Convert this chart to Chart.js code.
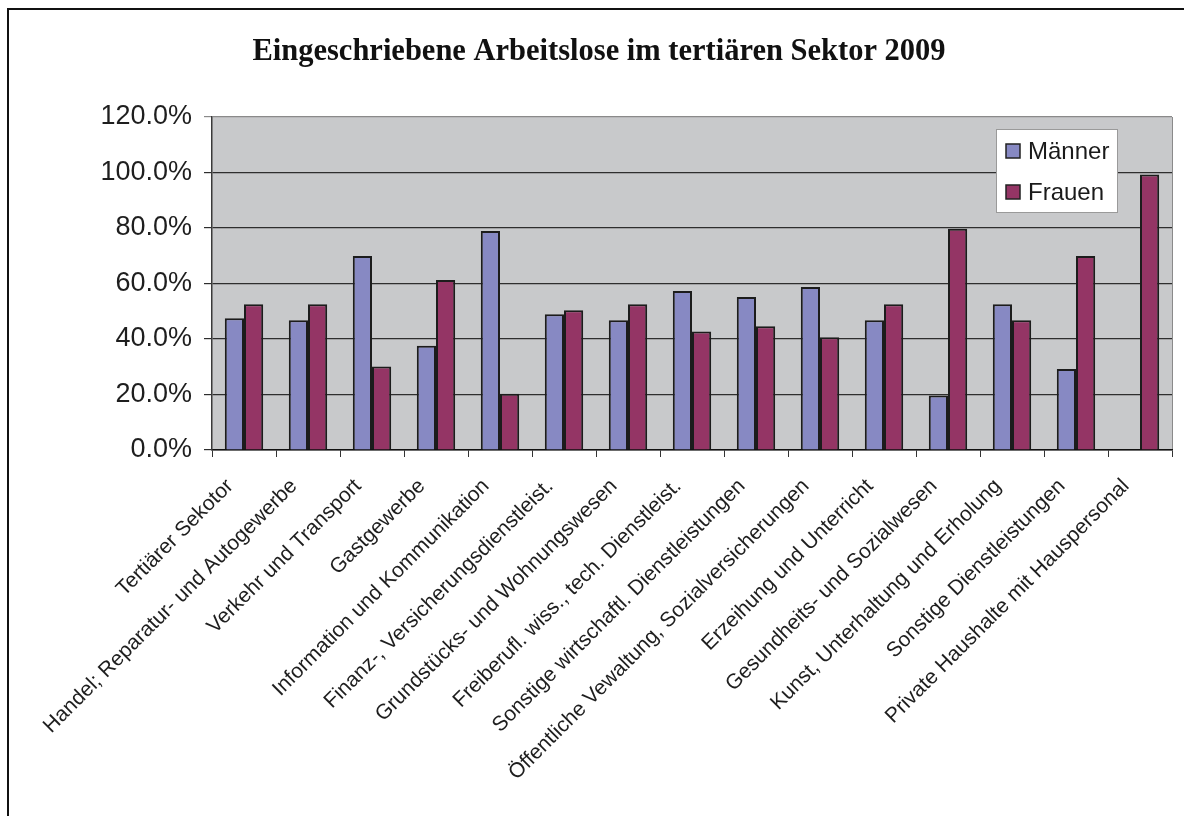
<!DOCTYPE html>
<html>
<head>
<meta charset="utf-8">
<script src="https://cdn.jsdelivr.net/npm/chart.js@4/dist/chart.umd.min.js"></script>
<style>
  html, body { margin: 0; padding: 0; background: #fff; overflow: hidden; }
  #wrap { position: relative; width: 1184px; height: 816px; }
  #frame { position: absolute; left: 7px; top: 8px; width: 1300px; height: 1000px; border: 2px solid #111; box-sizing: border-box; }
  canvas { position: absolute; left: 0; top: 0; }
</style>
</head>
<body>
<div id="wrap">
  <div id="frame"></div>
  <canvas id="c" width="1184" height="816"></canvas>
</div>
<script>
const chartTitle = "Eingeschriebene Arbeitslose im tertiären Sektor 2009";
const categories = [
  "Tertiärer Sekotor",
  "Handel; Reparatur- und Autogewerbe",
  "Verkehr und Transport",
  "Gastgewerbe",
  "Information und Kommunikation",
  "Finanz-, Versicherungsdienstleist.",
  "Grundstücks- und Wohnungswesen",
  "Freiberufl. wiss., tech. Dienstleist.",
  "Sonstige wirtschaftl. Dienstleistungen",
  "Öffentliche Vewaltung, Sozialversicherungen",
  "Erzeihung und Unterricht",
  "Gesundheits- und Sozialwesen",
  "Kunst, Unterhaltung und Erholung",
  "Sonstige Dienstleistungen",
  "Private Haushalte mit Hauspersonal"
];
const seriesNames = ["Männer", "Frauen"];
const maenner = [47.5, 46.8, 69.9, 37.6, 78.9, 48.9, 46.8, 57.3, 55.1, 58.7, 46.8, 19.6, 52.5, 29.2, 0];
const frauen  = [52.5, 52.5, 30.1, 61.3, 20.3, 50.4, 52.5, 42.7, 44.6, 40.6, 52.5, 79.7, 46.8, 69.9, 99.3];
const yTicks = [0, 20, 40, 60, 80, 100, 120];

const colMaenner = "#8789c3";
const colFrauen = "#943565";

const plotBg = {
  id: "plotBg",
  beforeDraw(chart) {
    const a = chart.chartArea, ctx = chart.ctx;
    ctx.save();
    ctx.fillStyle = "#c8c9cb";
    ctx.fillRect(a.left, a.top, a.right - a.left, a.bottom - a.top);
    ctx.strokeStyle = "#8a8a8a";
    ctx.lineWidth = 1;
    ctx.beginPath();
    ctx.moveTo(a.right + 0.5, a.top);
    ctx.lineTo(a.right + 0.5, a.bottom);
    ctx.stroke();
    ctx.restore();
  }
};

const boxLegend = {
  id: "boxLegend",
  afterDraw(chart) {
    const ctx = chart.ctx;
    const x = 996, y = 129, w = 121, h = 83;
    ctx.save();
    ctx.fillStyle = "#ffffff";
    ctx.fillRect(x, y, w, h);
    ctx.strokeStyle = "#9a9a9a";
    ctx.lineWidth = 1;
    ctx.strokeRect(x + 0.5, y + 0.5, w, h);
    ctx.font = "24px 'Liberation Sans', Arial, sans-serif";
    ctx.textBaseline = "middle";
    chart.data.datasets.forEach((ds, i) => {
      const cy = y + 22 + i * 41;
      ctx.fillStyle = ds.backgroundColor;
      ctx.fillRect(x + 10, cy - 7, 14, 14);
      ctx.strokeStyle = "#222";
      ctx.lineWidth = 1.5;
      ctx.strokeRect(x + 10, cy - 7, 14, 14);
      ctx.fillStyle = "#1a1a1a";
      ctx.fillText(ds.label, x + 32, cy + 1);
    });
    ctx.restore();
  }
};

new Chart(document.getElementById("c"), {
  type: "bar",
  data: {
    labels: categories,
    datasets: [
      { label: seriesNames[0], data: maenner, backgroundColor: colMaenner, borderColor: "#1c1c1c", borderWidth: 2 },
      { label: seriesNames[1], data: frauen, backgroundColor: colFrauen, borderColor: "#1c1c1c", borderWidth: 2 }
    ]
  },
  options: {
    responsive: false,
    animation: false,
    devicePixelRatio: 1,
    layout: { padding: { left: 26, right: 12, top: 0, bottom: 0 } },
    datasets: { bar: { categoryPercentage: 0.6, barPercentage: 1.0 } },
    plugins: {
      legend: { display: false },
      tooltip: { enabled: false },
      title: {
        display: true,
        text: chartTitle,
        color: "#111",
        font: { family: "'Liberation Serif', 'Times New Roman', serif", size: 30.5, weight: "bold" },
        padding: { top: 34, bottom: 46.4 }
      }
    },
    scales: {
      x: {
        offset: true,
        grid: { display: true, drawOnChartArea: false, drawTicks: true, tickLength: 7, color: "#333", offset: true },
        border: { display: true, color: "#111", width: 1.5 },
        ticks: {
          autoSkip: false, maxRotation: 45, minRotation: 45, padding: 17, labelOffset: -14,
          color: "#1e1e1e",
          font: { family: "'Liberation Sans', Arial, sans-serif", size: 21 }
        },
        afterFit(scale) { scale.height = 366; }
      },
      y: {
        min: 0, max: 120,
        afterBuildTicks(scale) { scale.ticks = yTicks.map(v => ({ value: v })); },
        grid: {
          color: (ctx) => (ctx.tick && ctx.tick.value === 120 ? "#8a8a8a" : "#2e2e2e"),
          lineWidth: 1.2, tickLength: 8, drawTicks: true
        },
        border: { display: true, color: "#3a3a3a", width: 1.5 },
        ticks: {
          padding: 12,
          color: "#1e1e1e",
          font: { family: "'Liberation Sans', Arial, sans-serif", size: 27 },
          callback: (v) => Number(v).toFixed(1) + "%"
        },
        afterFit(scale) { scale.width = 186; }
      }
    }
  },
  plugins: [plotBg, boxLegend]
});
</script>
</body>
</html>
